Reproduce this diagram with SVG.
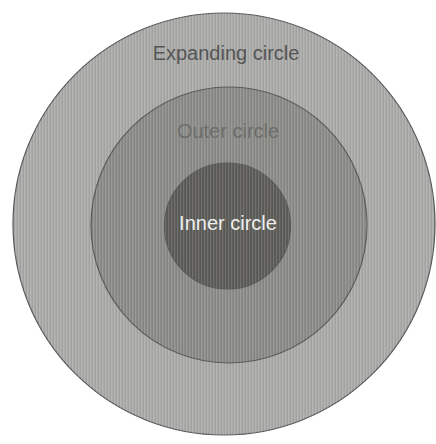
<svg xmlns="http://www.w3.org/2000/svg" width="436" height="444" viewBox="0 0 436 444">
<style>
.ring{stroke:#5a5a5a;stroke-width:1.2}
.lbl{font-family:"Liberation Sans",Arial,sans-serif;font-size:20px;text-anchor:middle}
</style>
<defs>
<pattern id="stripes" width="3" height="10" patternUnits="userSpaceOnUse">
<rect x="0" y="0" width="1" height="10" fill="#ffffff" opacity="0.12"/>
<rect x="2" y="0" width="1" height="10" fill="#000000" opacity="0.06"/>
</pattern>
</defs>
<rect width="436" height="444" fill="#ffffff"/>
<g id="expanding">
<circle class="ring" cx="224" cy="224" r="211" fill="#abacaa"/>
<circle cx="224" cy="224" r="211" fill="url(#stripes)"/>
<text class="lbl" x="226" y="60" fill="#555555">Expanding circle</text>
</g>
<g id="outer">
<circle class="ring" cx="229" cy="225" r="138" fill="#8c8d89"/>
<circle cx="229" cy="225" r="138" fill="url(#stripes)"/>
<text class="lbl" x="228" y="138" fill="#6e6e6c">Outer circle</text>
</g>
<g id="inner">
<circle class="ring" cx="227.5" cy="226" r="63" fill="#5e5d59"/>
<circle cx="227.5" cy="226" r="63" fill="url(#stripes)"/>
<text class="lbl" x="228" y="230" fill="#eeeeee">Inner circle</text>
</g>
<g id="connectors"/>
</svg>
